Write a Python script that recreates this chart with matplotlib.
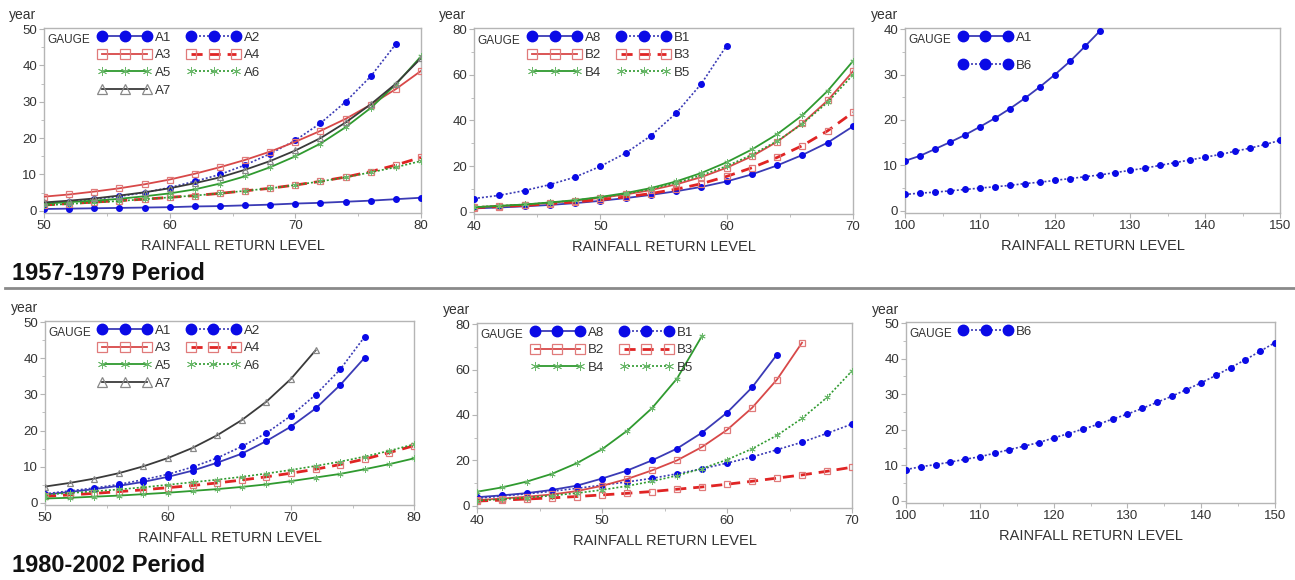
import matplotlib
matplotlib.use("Agg")
import matplotlib.pyplot as plt
from matplotlib.lines import Line2D
from matplotlib.ticker import MultipleLocator

plt.rcParams['font.family'] = ['Liberation Sans', 'DejaVu Sans']

# ---------------- DATA ----------------
# 1957-1979, panel 1 (x = 50..80 step 2)
x_p1 = [50, 52, 54, 56, 58, 60, 62, 64, 66, 68, 70, 72, 74, 76, 78, 80]
p1_A1 = [0.5, 0.6, 0.7, 0.8, 0.9, 1.0, 1.2, 1.3, 1.5, 1.7, 2.0, 2.2, 2.5, 2.8, 3.2, 3.6]
p1_A2 = [2.0, 2.5, 3.2, 4.0, 5.0, 6.4, 8.1, 10.0, 12.6, 15.7, 19.4, 24.1, 30.0, 37.0, 45.9]
p1_A3 = [3.9, 4.5, 5.3, 6.2, 7.3, 8.6, 10.2, 12.0, 14.0, 16.3, 19.0, 22.0, 25.3, 29.2, 33.5, 38.5]
p1_A4 = [1.6, 2.0, 2.4, 2.8, 3.2, 3.7, 4.2, 4.8, 5.5, 6.2, 7.1, 8.1, 9.3, 10.8, 12.6, 14.7]
p1_A5 = [2.0, 2.4, 2.8, 3.3, 4.0, 4.8, 5.9, 7.5, 9.5, 12.0, 15.0, 18.5, 23.0, 28.3, 34.8, 42.5]
p1_A6 = [1.5, 1.9, 2.3, 2.7, 3.2, 3.7, 4.2, 4.8, 5.5, 6.2, 7.1, 8.1, 9.2, 10.6, 12.0, 13.7]
p1_A7 = [2.3, 2.8, 3.4, 4.2, 5.1, 6.2, 7.6, 9.2, 11.3, 13.7, 16.6, 20.0, 24.3, 29.3, 35.0, 42.0]

# 1957-1979, panel 2 (x = 40..70 step 2)
x_p2 = [40, 42, 44, 46, 48, 50, 52, 54, 56, 58, 60, 62, 64, 66, 68, 70]
p2_A8 = [1.5, 1.9, 2.4, 3.0, 3.8, 4.8, 6.0, 7.4, 9.0, 10.9, 13.3, 16.4, 20.3, 24.9, 30.3, 37.4]
p2_B1 = [5.8, 7.2, 9.3, 11.9, 15.2, 19.9, 25.7, 33.3, 43.2, 56.1, 72.8]
p2_B2 = [2.0, 2.5, 3.1, 3.9, 4.9, 6.1, 7.6, 9.5, 12.0, 15.2, 19.3, 24.3, 30.7, 38.8, 48.8, 61.5]
p2_B3 = [1.8, 2.3, 2.8, 3.5, 4.3, 5.3, 6.5, 8.0, 9.9, 12.3, 15.5, 19.3, 23.8, 29.0, 35.5, 43.5]
p2_B4 = [2.0, 2.6, 3.2, 4.1, 5.1, 6.5, 8.2, 10.4, 13.3, 17.0, 21.7, 27.3, 34.0, 42.3, 53.0, 66.0]
p2_B5 = [2.1, 2.6, 3.2, 4.0, 5.0, 6.3, 7.9, 10.0, 12.7, 16.0, 20.0, 25.0, 31.0, 38.5, 48.0, 60.0]

# 1957-1979, panel 3 (x = 100..150 step 2)
x_p3 = [100, 102, 104, 106, 108, 110, 112, 114, 116, 118, 120, 122, 124, 126,
        128, 130, 132, 134, 136, 138, 140, 142, 144, 146, 148, 150]
p3_A1 = [11.0, 12.1, 13.6, 15.1, 16.7, 18.5, 20.4, 22.5, 24.8, 27.3, 30.0, 32.9, 36.2, 39.6]
p3_B6 = [3.6, 3.9, 4.1, 4.4, 4.7, 5.0, 5.3, 5.6, 6.0, 6.3, 6.7, 7.1, 7.5, 7.9,
         8.4, 8.9, 9.4, 10.0, 10.6, 11.2, 11.8, 12.4, 13.1, 13.8, 14.6, 15.5]

# 1980-2002, panel 4 (x = 50..80 step 2)
x_p4 = [50, 52, 54, 56, 58, 60, 62, 64, 66, 68, 70, 72, 74, 76, 78, 80]
p4_A1 = [2.3, 3.0, 3.8, 4.7, 5.8, 7.2, 8.9, 11.1, 13.6, 17.1, 21.1, 26.1, 32.6, 40.2]
p4_A2 = [2.5, 3.3, 4.1, 5.1, 6.4, 7.9, 9.9, 12.4, 15.6, 19.3, 24.1, 29.9, 36.9, 46.0]
p4_A4 = [1.8, 2.2, 2.6, 3.1, 3.6, 4.2, 4.8, 5.5, 6.3, 7.2, 8.2, 9.3, 10.6, 12.1, 13.9, 15.8]
p4_A5 = [1.2, 1.4, 1.7, 2.0, 2.4, 2.8, 3.3, 3.8, 4.4, 5.1, 6.0, 7.0, 8.0, 9.3, 10.7, 12.3]
p4_A6 = [2.3, 2.7, 3.2, 3.7, 4.3, 5.0, 5.7, 6.4, 7.2, 8.1, 9.1, 10.2, 11.4, 12.8, 14.4, 16.2]
p4_A7 = [4.5, 5.5, 6.7, 8.2, 10.1, 12.4, 15.2, 18.7, 22.9, 28.0, 34.3, 42.2]

# 1980-2002, panel 5 (x = 40..70 step 2)
x_p5 = [40, 42, 44, 46, 48, 50, 52, 54, 56, 58, 60, 62, 64, 66, 68, 70]
p5_A8 = [3.8, 4.6, 5.6, 7.0, 8.9, 12.0, 15.5, 20.0, 25.2, 32.2, 41.0, 52.1, 66.6]
p5_B1 = [3.3, 4.3, 5.3, 6.4, 7.7, 9.1, 10.5, 12.1, 14.1, 16.3, 18.8, 21.5, 24.7, 28.0, 31.9, 36.0]
p5_B2 = [2.5, 3.2, 4.0, 5.0, 6.5, 8.8, 11.8, 15.6, 20.0, 25.9, 33.4, 43.1, 55.6, 71.8]
p5_B3 = [2.1, 2.5, 3.0, 3.5, 4.1, 4.8, 5.5, 6.3, 7.3, 8.3, 9.5, 10.8, 12.2, 13.6, 15.2, 17.0]
p5_B4 = [6.2, 8.1, 10.7, 14.1, 18.8, 24.9, 33.0, 43.0, 56.0, 74.8]
p5_B5 = [2.3, 2.9, 3.6, 4.5, 5.6, 7.0, 8.7, 10.8, 13.3, 16.4, 20.3, 25.1, 31.0, 38.5, 47.7, 59.4]

# 1980-2002, panel 6 (x = 100..150 step 2)
x_p6 = [100, 102, 104, 106, 108, 110, 112, 114, 116, 118, 120, 122, 124, 126,
        128, 130, 132, 134, 136, 138, 140, 142, 144, 146, 148, 150]
p6_B6 = [8.8, 9.6, 10.2, 10.9, 11.7, 12.4, 13.4, 14.4, 15.4, 16.4, 17.7, 18.9, 20.2,
         21.5, 23.0, 24.4, 26.0, 27.7, 29.4, 31.3, 33.2, 35.3, 37.5, 39.7, 42.1, 44.5]

period_titles = ["1957-1979 Period", "1980-2002 Period"]
x_label = "RAINFALL RETURN LEVEL"
y_label = "year"

# ---------------- STYLES ----------------
BLUE_L = '#3b3bb5'
BLUE_M = '#0a0ae6'
RED_L = '#d84848'
RED_D = '#e02424'
RED_M = '#e07a7a'
GREEN_L = '#2f9a2f'
GREEN_M = '#6bb86b'
BLACK_L = '#3a3a3a'

def style(kind):
    if kind == 'blue_solid':
        return dict(color=BLUE_L, ls='-', lw=1.3, marker='o', mfc=BLUE_M, mec=BLUE_M)
    if kind == 'blue_dot':
        return dict(color=BLUE_L, ls=(0, (1.2, 1.2)), lw=1.2, marker='o', mfc=BLUE_M, mec=BLUE_M)
    if kind == 'red_solid':
        return dict(color=RED_L, ls='-', lw=1.3, marker='s', mfc='none', mec=RED_M)
    if kind == 'red_dash':
        return dict(color=RED_D, ls=(0, (4, 2.5)), lw=2.0, marker='s', mfc='none', mec=RED_M)
    if kind == 'green_solid':
        return dict(color=GREEN_L, ls='-', lw=1.3, marker=(6, 2, 0), mfc=GREEN_M, mec=GREEN_M)
    if kind == 'green_dot':
        return dict(color=GREEN_L, ls=(0, (1.2, 1.2)), lw=1.2, marker=(6, 2, 0), mfc=GREEN_M, mec=GREEN_M)
    if kind == 'black_solid':
        return dict(color=BLACK_L, ls='-', lw=1.3, marker='^', mfc='none', mec='#888888')

gauge_style = {
    'A1': 'blue_solid', 'A2': 'blue_dot', 'A3': 'red_solid', 'A4': 'red_dash',
    'A5': 'green_solid', 'A6': 'green_dot', 'A7': 'black_solid',
    'A8': 'blue_solid', 'B1': 'blue_dot', 'B2': 'red_solid', 'B3': 'red_dash',
    'B4': 'green_solid', 'B5': 'green_dot', 'B6': 'blue_dot',
}

def plot_ms(marker):
    if marker == 'o':
        return 4.0, 1.0
    if marker == 's':
        return 5.0, 0.9
    if marker == '^':
        return 4.5, 0.9
    return 4.5, 0.6

def legend_ms(marker):
    if marker == 'o':
        return 7.5, 1.0
    if marker == 's':
        return 7.0, 0.9
    if marker == '^':
        return 7.0, 0.9
    return 6.5, 0.6

W, H = 1295, 580
fig = plt.figure(figsize=(W / 100, H / 100), dpi=100)

def px_axes(left, top, right, bottom):
    return fig.add_axes([left / W, 1 - bottom / H, (right - left) / W, (bottom - top) / H])

panels = [
    dict(box=(44, 28, 421, 213), x=x_p1, xlim=(50, 80), ylim=50, ystep=10,
         series=[('A1', p1_A1), ('A2', p1_A2), ('A3', p1_A3), ('A4', p1_A4),
                 ('A5', p1_A5), ('A6', p1_A6), ('A7', p1_A7)],
         legend=['A1', 'A3', 'A5', 'A7', 'A2', 'A4', 'A6'], ncol=2),
    dict(box=(474, 28, 853, 214), x=x_p2, xlim=(40, 70), ylim=80, ystep=20,
         series=[('A8', p2_A8), ('B1', p2_B1), ('B2', p2_B2), ('B3', p2_B3),
                 ('B4', p2_B4), ('B5', p2_B5)],
         legend=['A8', 'B2', 'B4', 'B1', 'B3', 'B5'], ncol=2),
    dict(box=(905, 28, 1280, 213), x=x_p3, xlim=(100, 150), ylim=40, ystep=10,
         series=[('A1', p3_A1), ('B6', p3_B6)],
         legend=['A1', 'B6'], ncol=1, lspace=1.2),
    dict(box=(45, 321, 414, 505), x=x_p4, xlim=(50, 80), ylim=50, ystep=10,
         series=[('A1', p4_A1), ('A2', p4_A2), ('A4', p4_A4),
                 ('A5', p4_A5), ('A6', p4_A6), ('A7', p4_A7)],
         legend=['A1', 'A3', 'A5', 'A7', 'A2', 'A4', 'A6'], ncol=2),
    dict(box=(477, 323, 852, 508), x=x_p5, xlim=(40, 70), ylim=80, ystep=20,
         series=[('A8', p5_A8), ('B1', p5_B1), ('B2', p5_B2), ('B3', p5_B3),
                 ('B4', p5_B4), ('B5', p5_B5)],
         legend=['A8', 'B2', 'B4', 'B1', 'B3', 'B5'], ncol=2),
    dict(box=(906, 322, 1275, 503), x=x_p6, xlim=(100, 150), ylim=50, ystep=10,
         series=[('B6', p6_B6)],
         legend=['B6'], ncol=1),
]

SPINE = '#b5b5b5'
TXT = '#333333'

for p in panels:
    ax = px_axes(*p['box'])
    xs = p['x']
    for name, vals in p['series']:
        st = style(gauge_style[name])
        ms, mew = plot_ms(st['marker'])
        ax.plot(xs[:len(vals)], vals, ms=ms, mew=mew, zorder=3, **st)
    ax.set_xlim(*p['xlim'])
    ax.set_ylim(-0.012 * p['ylim'], p['ylim'] * 1.006)
    ax.xaxis.set_major_locator(MultipleLocator(10))
    ax.xaxis.set_minor_locator(MultipleLocator(5))
    ax.yaxis.set_major_locator(MultipleLocator(p['ystep']))
    ax.yaxis.set_minor_locator(MultipleLocator(p['ystep'] / 2))
    for s in ax.spines.values():
        s.set_color(SPINE)
        s.set_linewidth(1.0)
    ax.tick_params(which='both', colors=SPINE, labelcolor=TXT, labelsize=9.5, direction='out')
    ax.tick_params(which='major', length=3.5, pad=1.5)
    ax.tick_params(which='minor', length=2)
    ax.set_xlabel(x_label, fontsize=10.5, color=TXT, labelpad=5)
    ax.text(-0.092, 1.03, y_label, transform=ax.transAxes, fontsize=10, color=TXT,
            ha='left', va='bottom')
    # legend
    handles = []
    for name in p['legend']:
        st = style(gauge_style[name])
        ms, mew = legend_ms(st['marker'])
        handles.append(Line2D([0], [0], ms=ms, mew=mew, **st))
    leg = ax.legend(handles, p['legend'], ncol=p['ncol'], loc='upper left',
                    bbox_to_anchor=(0.135, 1.0), frameon=False, fontsize=9.5,
                    numpoints=3, handlelength=4.0, handletextpad=0.3,
                    columnspacing=1.2, labelspacing=p.get('lspace', 0.42),
                    borderpad=0.25, borderaxespad=0.0)
    for t in leg.get_texts():
        t.set_color(TXT)
    ax.text(0.008, 0.965, 'GAUGE', transform=ax.transAxes, fontsize=8.5, color=TXT,
            ha='left', va='top')

# period titles and separator line
fig.text(12 / W, 1 - 273 / H, period_titles[0], fontsize=17, fontweight='bold',
         color='#111111', ha='left', va='center')
fig.text(12 / W, 1 - 566 / H, period_titles[1], fontsize=17, fontweight='bold',
         color='#111111', ha='left', va='center')
fig.add_artist(Line2D([5 / W, 1.0], [1 - 288 / H, 1 - 288 / H], color='#8a8a8a', lw=2.0,
                      transform=fig.transFigure))

fig.savefig('out.png', dpi=100, facecolor='white')
